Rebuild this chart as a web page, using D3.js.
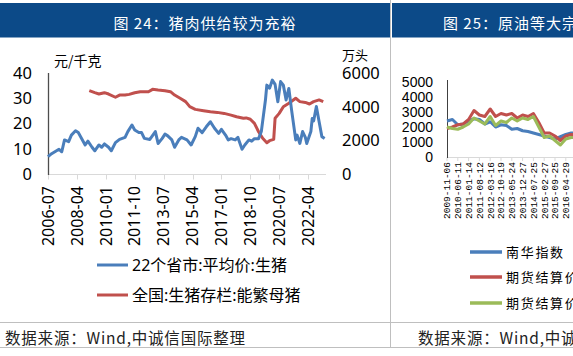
<!DOCTYPE html>
<html><head><meta charset="utf-8">
<script src="https://cdn.jsdelivr.net/npm/d3@7"></script>
<style>body{margin:0;background:#fff;overflow:hidden}svg{display:block}</style>
</head><body>
<svg id="c" width="573" height="356"></svg>
<script>
// ---------- Left chart data ----------
const priceMonths = ["2006-07","2006-09","2006-12","2007-03","2007-05","2007-07","2007-10","2007-12","2008-03","2008-05","2008-07","2008-10","2008-12","2009-03","2009-05","2009-08","2009-10","2009-12","2010-03","2010-05","2010-08","2010-11","2011-03","2011-05","2011-08","2011-10","2012-01","2012-03","2012-05","2012-09","2013-01","2013-03","2013-06","2013-08","2013-10","2014-01","2014-03","2014-06","2014-08","2014-12","2015-03","2015-06","2015-08","2015-11","2016-02","2016-05","2016-08","2016-11","2017-01","2017-04","2017-06","2017-08","2017-11","2018-01","2018-04","2018-06","2018-09","2018-11","2019-01","2019-04","2019-06","2019-09","2019-10","2019-12","2020-02","2020-04","2020-06","2020-08","2020-10","2020-12","2021-02","2021-04","2021-07","2021-08","2021-10","2021-12","2022-02","2022-03","2022-06","2022-07","2022-08","2022-10","2022-12","2023-02","2023-04"];
const priceValues = [6.9,7.8,8.8,9.8,8.8,13.5,12.8,15.4,17.1,16.4,14.5,11.5,13.0,10.6,9.2,11.5,10.6,11.9,10.6,9.2,12.4,13.7,14.5,16.8,19.4,17.4,16.4,16.4,14.1,13.7,16.8,12.1,14.1,15.8,15.1,13.5,10.6,13.5,14.5,13.5,11.5,14.8,18.1,16.4,18.7,20.7,18.1,16.1,17.7,15.4,13.5,14.0,13.5,14.5,9.8,11.5,13.5,13.0,14.0,14.0,16.8,29.3,35.2,34.0,37.2,35.5,28.6,36.6,35.2,29.3,33.9,25.3,13.5,15.4,12.1,16.8,14.5,12.1,16.8,22.0,21.0,26.7,20.7,14.8,14.1];

const sowMonths = ["2009-01","2009-05","2009-08","2009-12","2010-03","2010-08","2010-11","2011-03","2011-06","2011-10","2012-02","2012-08","2012-11","2013-03","2013-08","2013-12","2014-03","2014-07","2014-11","2015-02","2015-06","2015-12","2016-05","2016-10","2017-03","2017-08","2017-12","2018-05","2018-07","2018-10","2019-01","2019-04","2019-07","2019-10","2019-12","2020-03","2020-04","2020-07","2020-10","2021-02","2021-07","2021-10","2022-02","2022-05","2022-08","2022-12","2023-03"];
const sowValues = [4950,4830,4750,4830,4750,4560,4690,4690,4730,4830,4890,4890,5030,4990,4950,4890,4690,4500,4300,4000,3840,3760,3700,3660,3600,3500,3400,3310,3330,3250,3010,2510,2120,1860,1980,2060,3310,3600,4000,4200,4500,4300,4250,4160,4300,4400,4300];

const xTickLabels = ["2006-07","2008-04","2010-01","2011-10","2013-07","2015-04","2017-01","2018-10","2020-07","2022-04"];
const leftTicks = [0,10,20,30,40];
const rightTicks = [0,2000,4000,6000];
const leftSeriesNames = ["22个省市:平均价:生猪","全国:生猪存栏:能繁母猪"];

// ---------- Right (partial) chart data ----------
const r2Ticks = [0,1000,2000,3000,4000,5000];
const r2Labels = ["2009-11-06","2010-06-11","2011-01-14","2011-08-12","2012-03-16","2012-10-19","2013-05-24","2013-12-27","2014-07-25","2015-02-27","2015-09-25","2016-04-29","2016-11-25"];
const r2Blue  = [2400,2500,2150,2200,2400,2550,2500,2200,2350,2000,2150,2100,1850,1900,1750,1700,1600,1500,1400,1300,1200,1350,1500,1600,1600];
const r2Red   = [1900,2000,2150,2200,2500,3100,2800,2700,3200,2700,2900,2800,2900,2600,2800,2700,2900,2300,1600,1600,1400,1100,1400,1500,1500];
const r2Green = [2000,1900,1850,2000,2200,2600,2400,2200,2700,2100,2400,2300,2600,2400,2600,2500,2700,2000,1300,1400,1100,800,1200,1300,1300];
const r2Names = ["南华指数（左轴）","期货结算价(活跃合约):布伦特原油","期货结算价(活跃合约):WTI原油"];

const BLUE="#4a7ebb", RED="#c0504d", GREEN="#9bbb59", HEAD="#0c4a88";
const SANS="'Noto Sans','Noto Sans CJK SC',sans-serif";
const CJK="'Noto Sans CJK SC',sans-serif";

const svg = d3.select("#c");
svg.append("rect").attr("width",573).attr("height",356).attr("fill","#fff");

// headers
svg.append("rect").attr("x",0).attr("y",3).attr("width",390).attr("height",34.5).attr("fill",HEAD);
svg.append("rect").attr("x",392).attr("y",3).attr("width",181).attr("height",34.5).attr("fill",HEAD);
svg.append("text").attr("x",205).attr("y",22).attr("text-anchor","middle").attr("dominant-baseline","central")
  .attr("fill","#fff").attr("font-family",CJK).attr("font-size",15).attr("letter-spacing",1)
  .text("图 24：猪肉供给较为充裕");
svg.append("text").attr("x",443).attr("y",22).attr("dominant-baseline","central")
  .attr("fill","#fff").attr("font-family",CJK).attr("font-size",15).attr("letter-spacing",1)
  .text("图 25：原油等大宗商品价格指数走势");

// separators
svg.append("line").attr("x1",390.5).attr("x2",390.5).attr("y1",0).attr("y2",347).attr("stroke","#bfbfbf");
svg.append("line").attr("x1",0).attr("x2",573).attr("y1",322.5).attr("y2",322.5).attr("stroke","#bfbfbf");
svg.append("line").attr("x1",0).attr("x2",573).attr("y1",347.5).attr("y2",347.5).attr("stroke","#bfbfbf");

// ---------- left chart ----------
const mIdx = s => { const [y,m] = s.split("-").map(Number); return (y-2006)*12 + (m-7); };
const x = d3.scaleLinear().domain([0,202]).range([48,326]);
const yL = d3.scaleLinear().domain([0,40]).range([174,73]);
const yR = d3.scaleLinear().domain([0,6000]).range([174,73]);

const g = svg.append("g");
g.append("line").attr("x1",48).attr("x2",326).attr("y1",174.5).attr("y2",174.5).attr("stroke","#d9d9d9");
xTickLabels.forEach(lbl => {
  const xp = Math.round(x(mIdx(lbl)))+0.5;
  g.append("line").attr("x1",xp).attr("x2",xp).attr("y1",174.5).attr("y2",179.5).attr("stroke","#d9d9d9");
  g.append("text").attr("transform",`translate(${x(mIdx(lbl))},186) rotate(-90)`)
    .attr("text-anchor","end").attr("dy","0.36em").attr("font-family",SANS).attr("font-size",16).attr("fill","#000")
    .text(lbl);
});
g.append("line").attr("x1",48.5).attr("x2",48.5).attr("y1",73).attr("y2",175).attr("stroke","#4d4d4d").attr("stroke-width",1.3);
leftTicks.forEach(t => g.append("text").attr("x",32).attr("y",yL(t)).attr("text-anchor","end").attr("dy","0.36em")
  .attr("font-family",SANS).attr("font-size",16.5).text(t));
rightTicks.forEach(t => g.append("text").attr("x",342).attr("y",yR(t)).attr("dy","0.36em")
  .attr("font-family",SANS).attr("font-size",16.5).text(t));
g.append("text").attr("x",54).attr("y",61).attr("dy","0.36em").attr("font-family",CJK).attr("font-size",14).text("元/千克");
g.append("text").attr("x",342).attr("y",55).attr("dy","0.36em").attr("font-family",CJK).attr("font-size",13).text("万头");

const price = priceMonths.map((m,i)=>({i:mIdx(m),v:priceValues[i]}));
const sow = sowMonths.map((m,i)=>({i:mIdx(m),v:sowValues[i]}));
g.append("path").datum(sow).attr("fill","none").attr("stroke",RED).attr("stroke-width",3).attr("stroke-linejoin","round")
  .attr("d", d3.line().x(d=>x(d.i)).y(d=>yR(d.v)));
g.append("path").datum(price).attr("fill","none").attr("stroke",BLUE).attr("stroke-width",3).attr("stroke-linejoin","round")
  .attr("d", d3.line().x(d=>x(d.i)).y(d=>yL(d.v)));

[[BLUE,265],[RED,295]].forEach(([c,yy],k)=>{
  g.append("line").attr("x1",97).attr("x2",128).attr("y1",yy).attr("y2",yy).attr("stroke",c).attr("stroke-width",3);
  g.append("text").attr("x",132).attr("y",yy).attr("dy","0.36em").attr("font-family",SANS).attr("font-size",16).text(leftSeriesNames[k]);
});
g.append("text").attr("x",5).attr("y",338).attr("dy","0.36em").attr("font-family",CJK).attr("font-size",15.5).attr("letter-spacing",0.8).attr("fill","#222")
  .text("数据来源：Wind,中诚信国际整理");

// ---------- right (partial) chart ----------
const clip = svg.append("defs").append("clipPath").attr("id","rc");
clip.append("rect").attr("x",391).attr("y",0).attr("width",182).attr("height",356);
const r = svg.append("g").attr("clip-path","url(#rc)");
const x2 = d3.scaleLinear().domain([0,24]).range([447,576.6]);
const y2 = d3.scaleLinear().domain([0,5000]).range([157,82]);
r.append("line").attr("x1",447).attr("x2",700).attr("y1",157.5).attr("y2",157.5).attr("stroke","#d9d9d9");
r2Labels.forEach((lbl,k)=>{
  const xp = x2(k*2);
  r.append("line").attr("x1",xp).attr("x2",xp).attr("y1",157.5).attr("y2",161).attr("stroke","#d9d9d9");
  r.append("text").attr("transform",`translate(${xp},162) rotate(-90)`).attr("text-anchor","end").attr("dy","0.36em")
    .attr("font-family","'Liberation Mono',monospace").attr("font-size",9.5).text(lbl);
});
r.append("line").attr("x1",447.5).attr("x2",447.5).attr("y1",80).attr("y2",158).attr("stroke","#404040");
r2Ticks.forEach(t => r.append("text").attr("x",433).attr("y",y2(t)).attr("dy","0.36em").attr("text-anchor","end")
  .attr("font-family","'Liberation Sans',Arial,sans-serif").attr("font-size",14).text(t));
[[r2Blue,BLUE],[r2Red,RED],[r2Green,GREEN]].forEach(([arr,c])=>{
  r.append("path").datum(arr).attr("fill","none").attr("stroke",c).attr("stroke-width",3).attr("stroke-linejoin","round")
   .attr("d", d3.line().x((d,i)=>x2(i)).y(d=>y2(d)));
});
[[BLUE,252],[RED,277],[GREEN,303]].forEach(([c,yy],k)=>{
  r.append("line").attr("x1",470).attr("x2",502).attr("y1",yy).attr("y2",yy).attr("stroke",c).attr("stroke-width",3.5);
  r.append("text").attr("x",506).attr("y",yy).attr("dy","0.36em").attr("font-family",CJK).attr("font-size",13).attr("letter-spacing",1.7).text(r2Names[k]);
});
r.append("text").attr("x",418).attr("y",338).attr("dy","0.36em").attr("font-family",CJK).attr("font-size",15.5).attr("letter-spacing",0.8).attr("fill","#222")
  .text("数据来源：Wind,中诚信国际整理");
</script>
</body></html>
